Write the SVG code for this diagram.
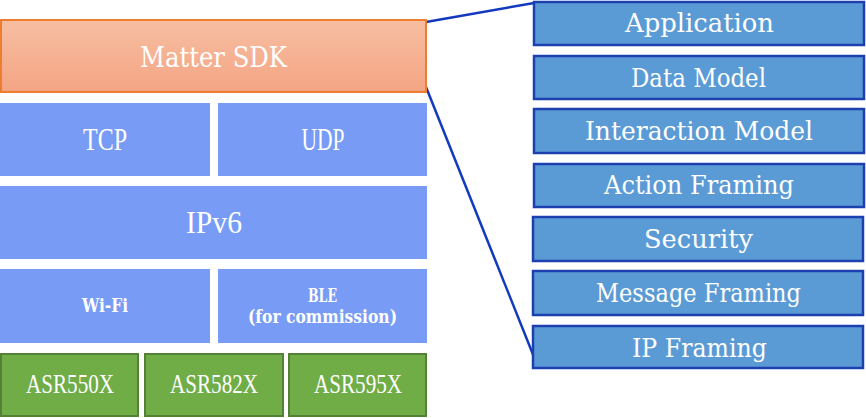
<svg xmlns="http://www.w3.org/2000/svg" width="866" height="418" viewBox="0 0 866 418">
<defs>
<linearGradient id="og" x1="0" y1="0" x2="0" y2="1">
<stop offset="0" stop-color="#F7BEA2"/>
<stop offset="1" stop-color="#F4A583"/>
</linearGradient>
</defs>
<style>
text{font-family:"DejaVu Serif","Liberation Serif",serif;fill:#fff;text-anchor:middle;}
.ser{font-family:"Liberation Serif","Times New Roman",serif;}
.blk{fill:#789CF5;}
.grn{fill:#70AD47;stroke:#538135;stroke-width:2;}
.lay{fill:#5B9BD5;stroke:#1D40B0;stroke-width:2.5;}
.t24{font-size:27px;}
.t30{font-size:31px;}
.t22{font-size:26px;}
.t15{font-size:19px;font-weight:bold;}
.t21{font-size:27px;}
.con{stroke:#1339BE;stroke-width:2.5;fill:none;}
</style>
<g id="connectors">
<line class="con" x1="426" y1="22" x2="534" y2="3"/>
<line class="con" x1="426" y1="87" x2="534" y2="357"/>
</g>
<g id="matter-sdk"><rect x="1" y="20" width="425" height="72" fill="url(#og)" stroke="#ED7D31" stroke-width="2"/><text class="t24" x="213.5" y="67" textLength="147" lengthAdjust="spacingAndGlyphs">Matter SDK</text></g>
<g id="tcp"><rect class="blk" x="0" y="103" width="210" height="73"/><text class="t30 ser" x="105" y="150" textLength="44" lengthAdjust="spacingAndGlyphs">TCP</text></g>
<g id="udp"><rect class="blk" x="218" y="103" width="209" height="73"/><text class="t30 ser" x="323" y="150" textLength="43" lengthAdjust="spacingAndGlyphs">UDP</text></g>
<g id="ipv6"><rect class="blk" x="0" y="186" width="427" height="73"/><text class="t30 ser" x="214" y="233" textLength="56" lengthAdjust="spacingAndGlyphs">IPv6</text></g>
<g id="wifi"><rect class="blk" x="0" y="269" width="210" height="74"/><text class="t15" x="105" y="312" textLength="46" lengthAdjust="spacingAndGlyphs">Wi-Fi</text></g>
<g id="ble"><rect class="blk" x="218" y="269" width="209" height="74"/><text class="t15" x="322.5" y="302" textLength="29" lengthAdjust="spacingAndGlyphs">BLE</text><text class="t15" x="322.5" y="323" textLength="149" lengthAdjust="spacingAndGlyphs">(for commission)</text></g>
<g id="asr550x"><rect class="grn" x="1" y="354" width="137" height="62"/><text class="t21 ser" x="70" y="393" textLength="88" lengthAdjust="spacingAndGlyphs">ASR550X</text></g>
<g id="asr582x"><rect class="grn" x="145" y="354" width="138" height="62"/><text class="t21 ser" x="214" y="393" textLength="88" lengthAdjust="spacingAndGlyphs">ASR582X</text></g>
<g id="asr595x"><rect class="grn" x="289" y="354" width="137" height="62"/><text class="t21 ser" x="358" y="393" textLength="88" lengthAdjust="spacingAndGlyphs">ASR595X</text></g>
<g id="application"><rect class="lay" x="534" y="2" width="330" height="43"/><text class="t22" x="699.5" y="32" textLength="149" lengthAdjust="spacingAndGlyphs">Application</text></g>
<g id="data-model"><rect class="lay" x="534" y="56" width="330" height="43"/><text class="t22" x="698.5" y="87" textLength="135" lengthAdjust="spacingAndGlyphs">Data Model</text></g>
<g id="interaction-model"><rect class="lay" x="534" y="109" width="330" height="44"/><text class="t22" x="699" y="140" textLength="228" lengthAdjust="spacingAndGlyphs">Interaction Model</text></g>
<g id="action-framing"><rect class="lay" x="534" y="164" width="330" height="43"/><text class="t22" x="699" y="194" textLength="190" lengthAdjust="spacingAndGlyphs">Action Framing</text></g>
<g id="security"><rect class="lay" x="533" y="217" width="330" height="44"/><text class="t22" x="698.5" y="248" textLength="109" lengthAdjust="spacingAndGlyphs">Security</text></g>
<g id="message-framing"><rect class="lay" x="533" y="271" width="330" height="44"/><text class="t22" x="698.5" y="302" textLength="205" lengthAdjust="spacingAndGlyphs">Message Framing</text></g>
<g id="ip-framing"><rect class="lay" x="533" y="326" width="330" height="42"/><text class="t22" x="699.5" y="357" textLength="135" lengthAdjust="spacingAndGlyphs">IP Framing</text></g>
</svg>
